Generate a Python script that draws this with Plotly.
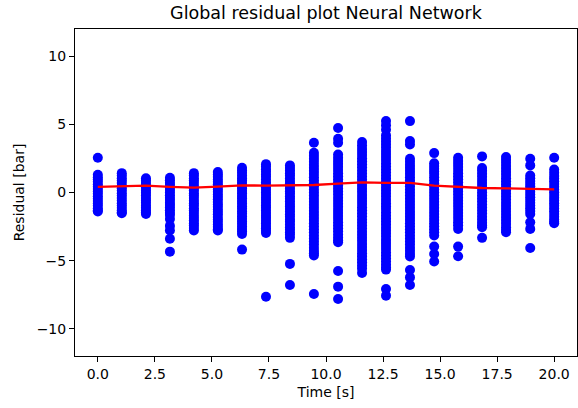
import plotly.graph_objects as go

# Time positions of the 20 evaluation instants [s]
time_s = [0.0, 1.05, 2.11, 3.16, 4.21, 5.26, 6.32, 7.37, 8.42, 9.47,
          10.53, 11.58, 12.63, 13.68, 14.74, 15.79, 16.84, 17.89, 18.95, 20.0]

# Residuals [bar] read for each time column
res_00 = [2.55, 1.30, 1.12, 0.95, 0.78, 0.60, 0.42, 0.25, 0.08, -0.10, -0.28, -0.45, -0.62, -0.80, -0.98, -1.15, -1.30, -1.40]
res_01 = [1.42, 1.25, 1.05, 0.88, 0.70, 0.50, 0.32, 0.15, -0.05, -0.22, -0.40, -0.58, -0.78, -0.95, -1.12, -1.30, -1.45, -1.52]
res_02 = [1.05, 0.88, 0.70, 0.52, 0.35, 0.15, -0.02, -0.20, -0.40, -0.58, -0.75, -0.95, -1.12, -1.30, -1.45, -1.57]
res_03 = [1.08, 0.90, 0.72, 0.55, 0.35, 0.18, 0.00, -0.20, -0.38, -0.55, -0.75, -0.92, -1.10, -1.30, -1.48, -1.65, -1.95, -2.45, -2.79, -3.40, -4.34]
res_04 = [1.42, 1.25, 1.05, 0.88, 0.70, 0.50, 0.32, 0.15, -0.05, -0.22, -0.40, -0.60, -0.78, -0.95, -1.15, -1.32, -1.50, -1.70, -1.88, -2.05, -2.25, -2.42, -2.60, -2.79]
res_05 = [1.50, 1.32, 1.15, 0.95, 0.78, 0.60, 0.40, 0.22, 0.05, -0.15, -0.32, -0.50, -0.70, -0.88, -1.05, -1.25, -1.42, -1.60, -1.80, -1.98, -2.15, -2.35, -2.52, -2.70, -2.79]
res_06 = [1.81, 1.62, 1.45, 1.25, 1.05, 0.88, 0.70, 0.50, 0.32, 0.12, -0.05, -0.25, -0.42, -0.62, -0.80, -1.00, -1.18, -1.38, -1.55, -1.75, -1.92, -2.12, -2.30, -2.50, -2.68, -2.85, -3.04, -4.19]
res_07 = [2.08, 1.90, 1.70, 1.52, 1.32, 1.15, 0.95, 0.75, 0.58, 0.38, 0.20, 0.00, -0.18, -0.38, -0.55, -0.75, -0.95, -1.12, -1.32, -1.50, -1.70, -1.88, -2.08, -2.25, -2.45, -2.62, -2.80, -2.97, -7.65]
res_08 = [1.99, 1.80, 1.62, 1.42, 1.25, 1.05, 0.85, 0.68, 0.48, 0.30, 0.10, -0.08, -0.28, -0.45, -0.65, -0.85, -1.02, -1.22, -1.40, -1.60, -1.78, -1.98, -2.15, -2.35, -2.55, -2.72, -2.92, -3.10, -3.33, -5.24, -6.79]
res_09 = [3.65, 2.91, 2.70, 2.48, 2.25, 2.02, 1.80, 1.58, 1.35, 1.12, 0.90, 0.68, 0.45, 0.22, 0.00, -0.22, -0.45, -0.68, -0.90, -1.12, -1.35, -1.58, -1.80, -2.02, -2.25, -2.48, -2.70, -2.92, -3.15, -3.38, -3.60, -3.82, -4.05, -4.28, -4.45, -4.63, -7.45]
res_10 = [4.73, 3.95, 3.65, 2.78, 2.55, 2.32, 2.10, 1.88, 1.65, 1.42, 1.20, 0.98, 0.75, 0.52, 0.30, 0.08, -0.15, -0.38, -0.60, -0.82, -1.05, -1.28, -1.50, -1.72, -1.95, -2.18, -2.40, -2.62, -2.85, -3.08, -3.30, -3.50, -3.65, -5.76, -6.91, -7.82]
res_11 = [3.70, 3.45, 3.20, 2.97, 2.75, 2.52, 2.30, 2.08, 1.85, 1.62, 1.40, 1.18, 0.95, 0.72, 0.50, 0.28, 0.05, -0.18, -0.40, -0.62, -0.85, -1.08, -1.30, -1.52, -1.75, -1.98, -2.20, -2.42, -2.65, -2.88, -3.10, -3.32, -3.55, -3.78, -4.00, -4.22, -4.45, -4.68, -4.90, -5.12, -5.35, -5.58, -5.90]
res_12 = [5.24, 4.93, 4.60, 4.19, 3.95, 3.72, 3.50, 3.28, 3.05, 2.82, 2.60, 2.38, 2.15, 1.92, 1.70, 1.48, 1.25, 1.02, 0.80, 0.58, 0.35, 0.12, -0.10, -0.32, -0.55, -0.78, -1.00, -1.22, -1.45, -1.68, -1.90, -2.12, -2.35, -2.58, -2.80, -3.02, -3.25, -3.48, -3.70, -3.92, -4.15, -4.38, -4.60, -4.82, -5.05, -5.28, -5.48, -5.66, -7.08, -7.57]
res_13 = [5.24, 3.78, 3.52, 2.48, 2.25, 2.02, 1.80, 1.58, 1.35, 1.12, 0.90, 0.68, 0.45, 0.22, 0.00, -0.22, -0.45, -0.68, -0.90, -1.12, -1.35, -1.58, -1.80, -2.02, -2.25, -2.48, -2.70, -2.92, -3.15, -3.38, -3.60, -3.82, -4.05, -4.28, -4.50, -4.70, -5.69, -6.23, -6.79]
res_14 = [2.89, 2.15, 1.95, 1.75, 1.55, 1.35, 1.12, 0.90, 0.68, 0.45, 0.22, 0.00, -0.22, -0.45, -0.68, -0.90, -1.12, -1.35, -1.58, -1.80, -2.02, -2.25, -2.48, -2.70, -2.92, -3.16, -3.96, -4.51, -5.07]
res_15 = [2.55, 2.32, 2.10, 1.88, 1.65, 1.42, 1.20, 0.98, 0.75, 0.52, 0.30, 0.08, -0.15, -0.38, -0.60, -0.82, -1.05, -1.28, -1.50, -1.72, -1.95, -2.18, -2.40, -2.67, -3.97, -4.68]
res_16 = [2.65, 1.80, 1.60, 1.38, 1.15, 0.92, 0.70, 0.48, 0.25, 0.02, -0.20, -0.42, -0.65, -0.88, -1.10, -1.32, -1.55, -1.78, -2.00, -2.22, -2.40, -2.55, -3.33]
res_17 = [2.60, 2.40, 2.18, 1.95, 1.72, 1.50, 1.28, 1.05, 0.82, 0.60, 0.38, 0.15, -0.08, -0.30, -0.52, -0.75, -0.98, -1.20, -1.42, -1.65, -1.88, -2.10, -2.32, -2.55, -2.75, -2.92]
res_18 = [2.48, 1.99, 1.25, 1.05, 0.85, 0.65, 0.45, 0.25, 0.05, -0.15, -0.35, -0.55, -0.75, -0.95, -1.15, -1.35, -1.57, -2.18, -2.67, -4.07]
res_19 = [2.55, 1.68, 1.45, 1.22, 1.02, 0.82, 0.62, 0.42, 0.22, 0.02, -0.18, -0.38, -0.58, -0.78, -0.98, -1.18, -1.38, -1.58, -1.78, -1.98, -2.15, -2.26]

# Mean residual per time column [bar]
mean_residual = [0.41, 0.45, 0.50, 0.41, 0.36, 0.43, 0.53, 0.50, 0.50, 0.55,
                 0.65, 0.75, 0.70, 0.70, 0.50, 0.41, 0.33, 0.31, 0.28, 0.23]

x_ticks = [0.0, 2.5, 5.0, 7.5, 10.0, 12.5, 15.0, 17.5, 20.0]
x_tick_text = ["0.0", "2.5", "5.0", "7.5", "10.0", "12.5", "15.0", "17.5", "20.0"]
y_ticks = [-10, -5, 0, 5, 10]
y_tick_text = ["\u221210", "\u22125", "0", "5", "10"]

columns = [res_00, res_01, res_02, res_03, res_04, res_05, res_06, res_07, res_08, res_09,
           res_10, res_11, res_12, res_13, res_14, res_15, res_16, res_17, res_18, res_19]

px_x, px_y = [], []
for t, col in zip(time_s, columns):
    for v in col:
        px_x.append(t)
        px_y.append(v)

FONT = "DejaVu Sans"

fig = go.Figure()
fig.add_trace(go.Scatter(
    x=px_x, y=px_y, mode="markers",
    marker=dict(color="#0000ff", size=10, line=dict(width=0)),
    showlegend=False, hoverinfo="skip"))
fig.add_trace(go.Scatter(
    x=time_s, y=mean_residual, mode="lines",
    line=dict(color="#ff0000", width=2.3),
    showlegend=False, hoverinfo="skip"))

axis_common = dict(
    showgrid=False, zeroline=False, showline=True, mirror=True,
    linecolor="black", linewidth=1, ticks="outside", ticklen=5,
    tickwidth=1, tickcolor="black",
    tickfont=dict(family=FONT, size=14, color="black"),
)

fig.update_layout(
    width=578, height=408,
    margin=dict(l=75, r=1, t=29, b=52),
    paper_bgcolor="white", plot_bgcolor="white",
    font=dict(family=FONT, color="black"),
    title=dict(text="Global residual plot Neural Network",
               font=dict(family=FONT, size=17.5, color="black"),
               x=(75 + 577) / 2 / 578, xanchor="center",
               y=1 - 13 / 408, yanchor="middle", yref="container"),
    xaxis=dict(range=[-1, 21], tickvals=x_ticks, ticktext=x_tick_text,
               title=dict(text="Time [s]", font=dict(family=FONT, size=14, color="black"),
                          standoff=6),
               **axis_common),
    yaxis=dict(range=[-12, 12], tickvals=y_ticks, ticktext=y_tick_text,
               title=dict(text="Residual [bar]", font=dict(family=FONT, size=14, color="black"),
                          standoff=8),
               **axis_common),
)

fig.write_html("out.html")
